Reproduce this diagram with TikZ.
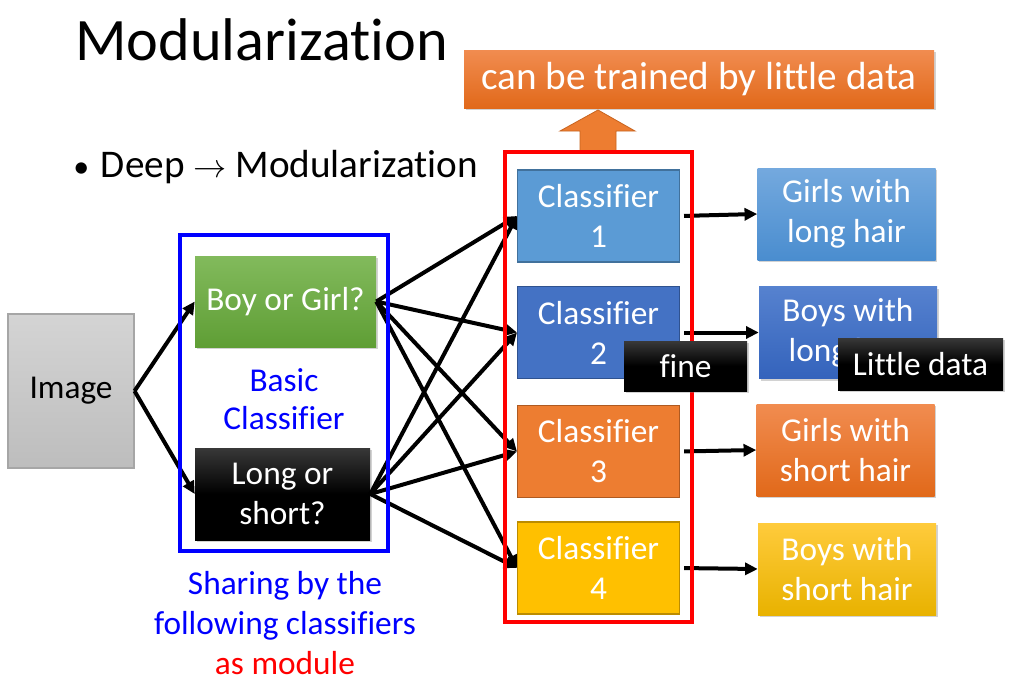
\documentclass[tikz,border=0pt]{standalone}
\usepackage{fontspec}
\setmainfont[Ligatures={NoCommon,NoContextual},Contextuals={NoAlternate},RawFeature={-liga}]{Carlito}
\usetikzlibrary{arrows.meta,shadows}
\definecolor{cOne}{HTML}{5B9BD5}
\definecolor{cOneB}{HTML}{41719C}
\definecolor{cTwo}{HTML}{4472C4}
\definecolor{cTwoB}{HTML}{2F528F}
\definecolor{cThree}{HTML}{ED7D31}
\definecolor{cThreeB}{HTML}{AE5A21}
\definecolor{cFour}{HTML}{FFC000}
\definecolor{cFourB}{HTML}{BC8C00}
\definecolor{oOneT}{HTML}{74A9DE}
\definecolor{oOneB}{HTML}{4A8DCF}
\definecolor{oTwoT}{HTML}{5682CF}
\definecolor{oTwoB}{HTML}{3463BC}
\definecolor{oThreeT}{HTML}{F18C50}
\definecolor{oThreeB}{HTML}{E1691A}
\definecolor{oFourT}{HTML}{FFCB3C}
\definecolor{oFourB}{HTML}{E8B200}
\definecolor{greenT}{HTML}{82BA5C}
\definecolor{greenB}{HTML}{5F9E35}
\definecolor{imgT}{HTML}{D4D4D4}
\definecolor{imgB}{HTML}{BDBDBD}
\definecolor{imgE}{HTML}{A6A6A6}
\definecolor{arrOr}{HTML}{ED7D31}
\definecolor{arrOrB}{HTML}{C8641F}
\definecolor{blueTxt}{HTML}{0000FF}
\definecolor{redLine}{HTML}{FF0000}
\begin{document}
\begin{tikzpicture}[x=0.75pt,y=-0.75pt,
  boxtxt/.style={rectangle, inner sep=0pt, align=center, text=white, font=\fontsize{25}{30}\selectfont},
  shad/.style={drop shadow={opacity=0.35, shadow xshift=1.2pt, shadow yshift=-1.5pt}},
  clsbox/.style={boxtxt, minimum width=121.5pt, minimum height=69pt, line width=0.8pt},
  outbox/.style={boxtxt, shad, minimum width=133.5pt, minimum height=69pt},
  blackbox/.style={boxtxt, shad, top color=black!78, bottom color=black, middle color=black},
  arr/.style={line width=3pt, -{Triangle[length=9.5pt,width=9pt]}},
  lbl/.style={inner sep=0pt, align=center, font=\fontsize{25}{30}\selectfont}
]
\useasboundingbox (0,0) rectangle (1027,696);
\fill[white] (0,0) rectangle (1027,696);

% title and bullet
\node[anchor=base west, inner sep=0pt, font=\fontsize{45.2}{50}\selectfont] (title) at (75,60) {Modularization};
\node[anchor=base west, inner sep=0pt, font=\fontsize{29.4}{34}\selectfont] (bullet) at (73,177) {{\fontsize{24}{30}\selectfont\textbullet}\hspace{0.3em}Deep $\rightarrow$ Modularization};

% top orange box and arrow
\node[boxtxt, shad, minimum width=352.5pt, minimum height=43.5pt, top color=oThreeT, bottom color=oThreeB, font=\fontsize{29.4}{34}\selectfont] (top) at (699,79) {can be trained by little data};
\draw[fill=arrOr, draw=arrOrB, line width=0.6pt] (580,152) -- (580,131) -- (560,131) -- (598,110) -- (635,131) -- (616,131) -- (616,152) -- cycle;

% left nodes
\node[rectangle, inner sep=0pt, minimum width=94.5pt, minimum height=115.5pt, top color=imgT, bottom color=imgB, draw=imgE, line width=0.8pt, font=\fontsize{25}{30}\selectfont] (img) at (71,391) {Image};
\node[boxtxt, shad, minimum width=135.75pt, minimum height=68.25pt, top color=greenT, bottom color=greenB] (bg) at (285.5,301.5) {Boy or Girl?};
\node[blackbox, minimum width=131.25pt, minimum height=69pt] (ls) at (282.5,494) {Long or\\short?};
\node[lbl, text=blueTxt] (basic) at (284,399) {Basic\\[-1pt]Classifier};
\node[lbl] (share) at (285,623) {\textcolor{blueTxt}{Sharing by the}\\\textcolor{blueTxt}{following classifiers}\\\textcolor{redLine}{as module}};

% classifiers
\node[clsbox, fill=cOne, draw=cOneB] (c1) at (598.5,216) {Classifier\\1};
\node[clsbox, fill=cTwo, draw=cTwoB] (c2) at (598.5,332.5) {Classifier\\2};
\node[clsbox, fill=cThree, draw=cThreeB] (c3) at (598.5,451.5) {Classifier\\3};
\node[clsbox, fill=cFour, draw=cFourB] (c4) at (598.5,568) {Classifier\\4};

% outputs
\node[outbox, top color=oOneT, bottom color=oOneB] (o1) at (846.5,214) {Girls with\\long hair};
\node[outbox, top color=oTwoT, bottom color=oTwoB] (o2) at (848,332.5) {Boys with\\long hair};
\node[outbox, top color=oThreeT, bottom color=oThreeB] (o3) at (845.5,450) {Girls with\\short hair};
\node[outbox, top color=oFourT, bottom color=oFourB] (o4) at (847,569) {Boys with\\short hair};

% arrows
\draw[arr] (img.east) -- (bg.west);
\draw[arr] (img.east) -- (ls.west);
\foreach \c in {c1,c2,c3,c4}{
  \draw[arr] (bg.east) -- (\c.west);
  \draw[arr] (ls.east) -- (\c.west);
}
\draw[arr, shorten <=3pt] (c1.east) -- (o1.west);
\draw[arr, shorten <=3pt] (c2.east) -- (o2.west);
\draw[arr, shorten <=3pt] (c3.east) -- (o3.west);
\draw[arr, shorten <=3pt] (c4.east) -- (o4.west);

% frames
\draw[blueTxt, line width=3pt] (180,235) rectangle (388,551);
\draw[redLine, line width=3pt] (505,152) rectangle (692,622);

% overlay labels
\node[blackbox, minimum width=92.25pt, minimum height=37.5pt] (fine) at (685.5,366) {fine};
\node[blackbox, minimum width=123.75pt, minimum height=39pt] (little) at (920.5,364) {Little data};
\end{tikzpicture}
\end{document}
